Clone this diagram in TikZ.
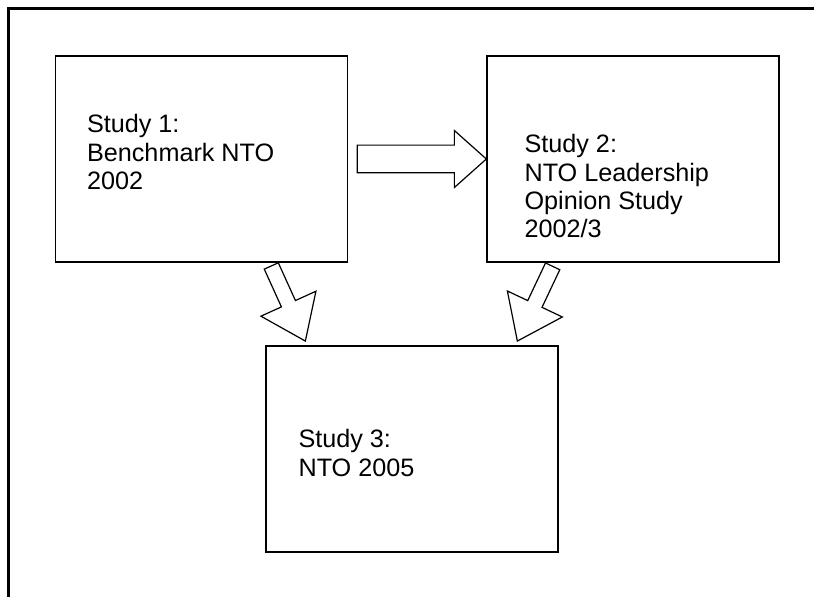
\documentclass[tikz,border=0pt]{standalone}
\usepackage{fontspec}
\setmainfont{Liberation Sans}
\usepackage{tikz}
\usetikzlibrary{calc}

\newcommand{\blockarrow}[5]{%
  \coordinate (ba-base) at ($(#2)!#5!(#1)$);
  \draw[blockline] ($(#1)!#3!90:(#2)$) -- ($(ba-base)!#3!90:(#2)$)
    -- ($(ba-base)!#4!90:(#2)$) -- (#2) -- ($(ba-base)!#4!-90:(#2)$)
    -- ($(ba-base)!#3!-90:(#2)$) -- ($(#1)!#3!-90:(#2)$) -- cycle;
}

\begin{document}
\begin{tikzpicture}[
    x=1bp, y=-1bp,
    studybox/.style={rectangle, draw, line width=1.3bp, minimum width=292bp, minimum height=206bp, inner sep=0pt},
    studytext/.style={anchor=base west, align=left, inner sep=0pt, font=\fontsize{25.3}{28.4}\selectfont},
    blockline/.style={draw, fill=white, line width=1.2bp, line join=miter}
  ]
    \useasboundingbox (0,0) rectangle (814,597);
    \clip (0,0) rectangle (814,597);
    \draw[line width=3bp] (8.5,8.5) rectangle (840,640);

    \node[studybox] (s1) at (201.5,159) {};
    \node[studybox] (s2) at (633,159) {};
    \node[studybox] (s3) at (412,449) {};

    \node[studytext] (t1) at ($(s1.north west)+(32,134)$) {Study 1:\\Benchmark NTO\\2002};
    \node[studytext] (t2) at ($(s2.north west)+(38,182.3)$) {Study 2:\\NTO Leadership\\Opinion Study\\2002/3};
    \node[studytext] (t3) at ($(s3.north west)+(33,130.7)$) {Study 3:\\NTO 2005};

    \coordinate (a12) at ($(s1.east)+(9,0)$);
    \coordinate (b12) at (s2.west);
    \coordinate (a13) at ($(s1.south)+(69.8,3.3)$);
    \coordinate (b13) at ($(s3.north west)+(40,-4.3)$);
    \coordinate (a23) at ($(s2.south west)+(66.3,3.7)$);
    \coordinate (b23) at ($(s3.north east)+(-41.3,-4.3)$);

    \blockarrow{a12}{b12}{13.85bp}{28.5bp}{32bp}
    \blockarrow{a13}{b13}{7.7bp}{30.2bp}{41bp}
    \blockarrow{a23}{b23}{7.9bp}{30.4bp}{41bp}
\end{tikzpicture}
\end{document}
